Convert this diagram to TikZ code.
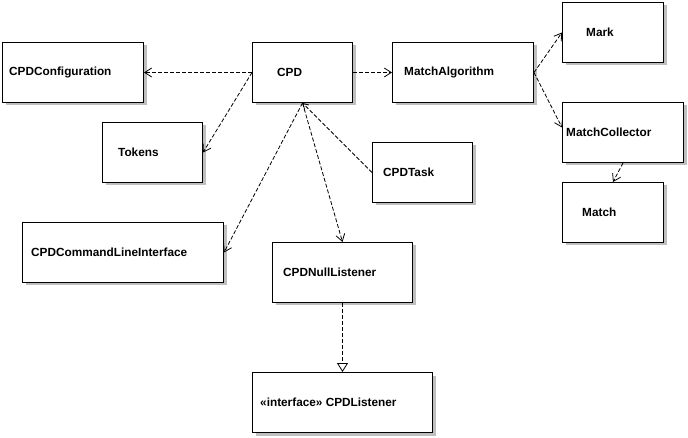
\documentclass[tikz,border=0pt]{standalone}
\usepackage{fontspec}
\setmainfont{Liberation Sans}
\usetikzlibrary{positioning, arrows.meta, shadows}

\tikzset{
  umlbox/.style={draw, line width=1pt, fill=white, anchor=north west, minimum height=60pt, inner sep=0pt,
    drop shadow={shadow xshift=3pt, shadow yshift=-3pt, fill=black!25, opacity=1}},
  lbl/.style={inner sep=0pt, font=\fontsize{11.8}{13}\selectfont\bfseries},
  dep/.style={line width=0.8pt, dash pattern=on 4pt off 2pt, -{Straight Barb[length=7pt,width=9pt]}},
  impl/.style={line width=0.8pt, dash pattern=on 4pt off 2pt, -{Triangle[open, fill=white, length=9pt, width=11pt]}},
}

\begin{document}
\begin{tikzpicture}[x=1pt, y=-1pt]
    \useasboundingbox (0,0) rectangle (688,438);
    % classes
    \node[umlbox, minimum width=141pt] (cfg) at (2,42) {};
    \node[lbl, right=7pt of cfg.west] (cfgl) {CPDConfiguration};
    \node[umlbox, minimum width=100pt] (cpd) at (252,42) {};
    \node[lbl, right=25pt of cpd.west] (cpdl) {CPD};
    \node[umlbox, minimum width=141pt] (algo) at (392,42) {};
    \node[lbl, right=12pt of algo.west] (algol) {MatchAlgorithm};
    \node[umlbox, minimum width=101pt] (mark) at (562,2) {};
    \node[lbl, right=24pt of mark.west] (markl) {Mark};
    \node[umlbox, minimum width=100pt] (tokens) at (102,122) {};
    \node[lbl, right=16pt of tokens.west] (tokensl) {Tokens};
    \node[umlbox, minimum width=100pt] (task) at (372,142) {};
    \node[lbl, right=11pt of task.west] (taskl) {CPDTask};
    \node[umlbox, minimum width=121pt] (collector) at (562,102) {};
    \node[lbl, right=4pt of collector.west] (collectorl) {MatchCollector};
    \node[umlbox, minimum width=101pt] (match) at (562,182) {};
    \node[lbl, right=20pt of match.west] (matchl) {Match};
    \node[umlbox, minimum width=201pt] (cli) at (22,222) {};
    \node[lbl, right=9pt of cli.west] (clil) {CPDCommandLineInterface};
    \node[umlbox, minimum width=140pt] (nulllst) at (272,242) {};
    \node[lbl, right=11pt of nulllst.west] (nulllstl) {CPDNullListener};
    \node[umlbox, minimum width=180pt] (lst) at (252,372) {};
    \node[lbl, right=8pt of lst.west] (lstl) {«interface» CPDListener};
    % dependencies
    \draw[dep] (cpd.west) -- (cfg.east);
    \draw[dep] (cpd.east) -- (algo.west);
    \draw[dep] (cpd.west) -- (tokens.east);
    \draw[dep] (cpd.south) -- (cli.east);
    \draw[dep] (cpd.south) -- (nulllst.north);
    \draw[dep, -{Straight Barb[length=5pt,width=6pt]}] (task.west) -- (cpd.south);
    \draw[dep] (algo.east) -- (mark.west);
    \draw[dep] (algo.east) -- ([yshift=5pt]collector.west);
    \draw[dep] (collector.south) -- (match.north);
    \draw[impl] (nulllst.south) -- (lst.north);
\end{tikzpicture}
\end{document}
